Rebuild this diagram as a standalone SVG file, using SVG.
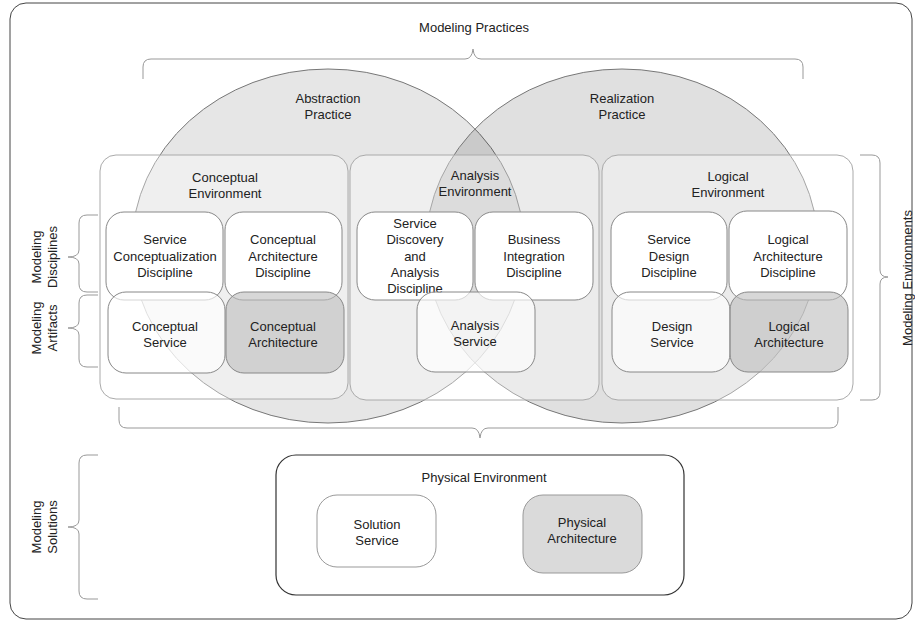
<svg xmlns="http://www.w3.org/2000/svg" width="915" height="620" viewBox="0 0 915 620">
<style>
text{font-family:"Liberation Sans",Arial,sans-serif;font-size:13px;fill:#222;text-anchor:middle}
.brace{fill:none;stroke:#999;stroke-width:1}
.env{fill:#fff;fill-opacity:0.35;stroke:#aaa;stroke-width:1}
.disc{fill:#fff;stroke:#888;stroke-width:1}
.art{fill:#fff;fill-opacity:0.65;stroke:#888;stroke-width:1}
.artg{fill:#bdbdbd;fill-opacity:0.6;stroke:#888;stroke-width:1}
</style>
<rect x="0" y="0" width="915" height="620" fill="#fff"/>
<rect x="10" y="3" width="902" height="616" rx="16" fill="none" stroke="#444" stroke-width="1"/>
<text x="474" y="32">Modeling Practices</text>
<g id="braces">
<path class="brace" d="M143,79 L143,67 Q143,59 151,59 L465,59 Q472,59 473,49 Q474,59 481,59 L795,59 Q803,59 803,67 L803,79"/>
<path class="brace" d="M860,155 L872,155 Q880,155 880,163 L880,270 Q880,277 888,277 Q880,277 880,284 L880,392 Q880,400 872,400 L860,400"/>
<path class="brace" d="M119,407 L119,420 Q119,428 127,428 L472,428 Q479,428 480,438 Q481,428 488,428 L830,428 Q838,428 838,420 L838,407"/>
<path class="brace" d="M98,215 L87,215 Q79,215 79,223 L79,250 Q79,257 68,257 Q79,257 79,264 L79,284 Q79,292 87,292 L98,292"/>
<path class="brace" d="M98,295 L87,295 Q79,295 79,303 L79,321 Q79,328 68,328 Q79,328 79,335 L79,359 Q79,367 87,367 L98,367"/>
<path class="brace" d="M98,455 L87,455 Q79,455 79,463 L79,520 Q79,527 68,527 Q79,527 79,534 L79,591 Q79,599 87,599 L98,599"/>
</g>
<text transform="translate(45,257) rotate(-90)"><tspan x="0" y="-4">Modeling</tspan><tspan x="0" y="12">Disciplines</tspan></text>
<text transform="translate(45,328) rotate(-90)"><tspan x="0" y="-4">Modeling</tspan><tspan x="0" y="12">Artifacts</tspan></text>
<text transform="translate(45,527) rotate(-90)"><tspan x="0" y="-4">Modeling</tspan><tspan x="0" y="12">Solutions</tspan></text>
<text transform="translate(908,278) rotate(-90)"><tspan x="0" y="4">Modeling Environments</tspan></text>
<g id="practices">
<g id="abstraction">
<ellipse cx="328" cy="246" rx="196" ry="177" fill="#e6e6e6" stroke="#777" stroke-width="1"/>
<text><tspan x="328" y="103">Abstraction</tspan><tspan x="328" y="119">Practice</tspan></text>
</g>
<g id="realization">
<ellipse cx="622" cy="246" rx="196" ry="177" fill="#000" fill-opacity="0.12" stroke="#777" stroke-width="1"/>
<text><tspan x="622" y="103">Realization</tspan><tspan x="622" y="119">Practice</tspan></text>
</g>
</g>
<g id="conceptual-env">
<rect class="env" x="100" y="155" width="248" height="244" rx="16"/>
<text><tspan x="225" y="182">Conceptual</tspan><tspan x="225" y="198">Environment</tspan></text>
</g>
<g id="analysis-env">
<rect class="env" x="350" y="155" width="249" height="245" rx="16"/>
<text><tspan x="475" y="180">Analysis</tspan><tspan x="475" y="196">Environment</tspan></text>
</g>
<g id="logical-env">
<rect class="env" x="602" y="155" width="251" height="245" rx="16"/>
<text><tspan x="728" y="181">Logical</tspan><tspan x="728" y="197">Environment</tspan></text>
</g>
<g id="service-conceptualization-discipline">
<rect class="disc" x="106" y="212" width="117" height="88" rx="18"/>
<text><tspan x="165" y="244">Service</tspan><tspan x="165" y="261">Conceptualization</tspan><tspan x="165" y="277">Discipline</tspan></text>
</g>
<g id="conceptual-architecture-discipline">
<rect class="disc" x="225" y="212" width="117" height="88" rx="18"/>
<text><tspan x="283" y="244">Conceptual</tspan><tspan x="283" y="261">Architecture</tspan><tspan x="283" y="277">Discipline</tspan></text>
</g>
<g id="service-discovery-discipline">
<rect class="disc" x="357" y="212" width="116" height="88" rx="18"/>
<text><tspan x="415" y="228">Service</tspan><tspan x="415" y="244">Discovery</tspan><tspan x="415" y="261">and</tspan><tspan x="415" y="277">Analysis</tspan><tspan x="415" y="293">Discipline</tspan></text>
</g>
<g id="business-integration-discipline">
<rect class="disc" x="475" y="212" width="118" height="88" rx="18"/>
<text><tspan x="534" y="244">Business</tspan><tspan x="534" y="261">Integration</tspan><tspan x="534" y="277">Discipline</tspan></text>
</g>
<g id="service-design-discipline">
<rect class="disc" x="611" y="212" width="116" height="88" rx="18"/>
<text><tspan x="669" y="244">Service</tspan><tspan x="669" y="261">Design</tspan><tspan x="669" y="277">Discipline</tspan></text>
</g>
<g id="logical-architecture-discipline">
<rect class="disc" x="729" y="211" width="118" height="89" rx="18"/>
<text><tspan x="788" y="244">Logical</tspan><tspan x="788" y="261">Architecture</tspan><tspan x="788" y="277">Discipline</tspan></text>
</g>
<g id="conceptual-service">
<rect class="art" x="108" y="292" width="117" height="81" rx="18"/>
<text><tspan x="165" y="331">Conceptual</tspan><tspan x="165" y="347">Service</tspan></text>
</g>
<g id="conceptual-architecture">
<rect class="artg" x="226" y="292" width="118" height="81" rx="18"/>
<text><tspan x="283" y="331">Conceptual</tspan><tspan x="283" y="347">Architecture</tspan></text>
</g>
<g id="analysis-service">
<rect class="art" x="417" y="292" width="118" height="80" rx="18"/>
<text><tspan x="475" y="330">Analysis</tspan><tspan x="475" y="346">Service</tspan></text>
</g>
<g id="design-service">
<rect class="art" x="612" y="292" width="118" height="80" rx="18"/>
<text><tspan x="672" y="331">Design</tspan><tspan x="672" y="347">Service</tspan></text>
</g>
<g id="logical-architecture">
<rect class="artg" x="730" y="292" width="118" height="80" rx="18"/>
<text><tspan x="789" y="331">Logical</tspan><tspan x="789" y="347">Architecture</tspan></text>
</g>
<g id="physical-env">
<rect x="276" y="455" width="408" height="140" rx="20" fill="#fff" stroke="#333" stroke-width="1.2"/>
<text x="484" y="482">Physical Environment</text>
</g>
<g id="solution-service">
<rect x="317" y="495" width="119" height="72" rx="20" fill="#fff" stroke="#999" stroke-width="1"/>
<text><tspan x="377" y="529">Solution</tspan><tspan x="377" y="545">Service</tspan></text>
</g>
<g id="physical-architecture">
<rect x="523" y="495" width="119" height="78" rx="20" fill="#dadada" stroke="#999" stroke-width="1"/>
<text><tspan x="582" y="527">Physical</tspan><tspan x="582" y="543">Architecture</tspan></text>
</g>
<g id="connectors"></g>
</svg>
